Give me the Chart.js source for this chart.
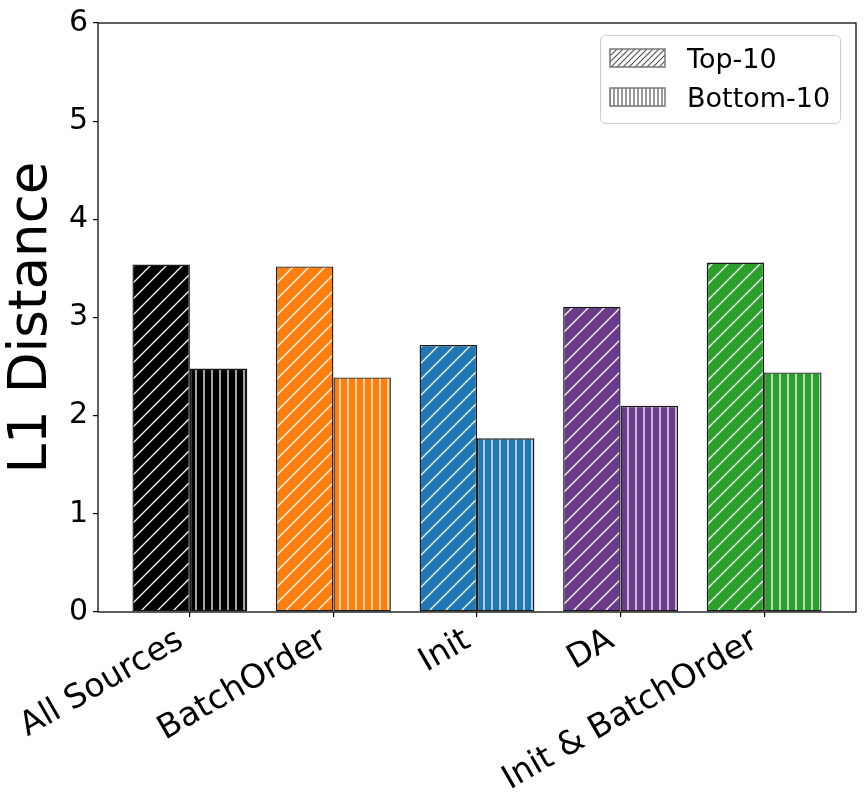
<!DOCTYPE html>
<html>
<head>
<meta charset="utf-8">
<script src="https://cdn.jsdelivr.net/npm/chart.js@4.4.0/dist/chart.umd.min.js"></script>
<style>
  html, body { margin: 0; padding: 0; background: #fff; }
  #wrap { width: 864px; height: 807px; }
</style>
</head>
<body>
<div id="wrap"><canvas id="l1Chart" width="864" height="807"></canvas></div>
<script>
// data
const categories = ['All Sources', 'BatchOrder', 'Init', 'DA', 'Init & BatchOrder'];
const seriesNames = ['Top-10', 'Bottom-10'];
const top10 = [3.54, 3.52, 2.72, 3.11, 3.56];
const bottom10 = [2.48, 2.39, 1.77, 2.10, 2.44];
const barColors = ['#000000', '#ff7f0e', '#1f77b4', '#6a3a8b', '#2ca02c'];
const yTicks = [0, 1, 2, 3, 4, 5, 6];

const FONT = "'DejaVu Sans', sans-serif";

// hatch pattern "/" with lines of given colour on a fill
function diagPattern(fill, line, size, width) {
    const c = document.createElement('canvas');
    c.width = size; c.height = size;
    const ctx = c.getContext('2d');
    ctx.fillStyle = fill;
    ctx.fillRect(0, 0, size, size);
    ctx.strokeStyle = line;
    ctx.lineWidth = width;
    ctx.beginPath();
    ctx.moveTo(0, size); ctx.lineTo(size, 0);
    ctx.moveTo(-size / 2, size / 2); ctx.lineTo(size / 2, -size / 2);
    ctx.moveTo(size / 2, size * 1.5); ctx.lineTo(size * 1.5, size / 2);
    ctx.stroke();
    return ctx.createPattern(c, 'repeat');
}

// hatch pattern "|"
function vertPattern(fill, line, size, width) {
    const c = document.createElement('canvas');
    c.width = size; c.height = size;
    const ctx = c.getContext('2d');
    ctx.fillStyle = fill;
    ctx.fillRect(0, 0, size, size);
    ctx.strokeStyle = line;
    ctx.lineWidth = width;
    ctx.beginPath();
    ctx.moveTo(size / 2, 0); ctx.lineTo(size / 2, size);
    ctx.stroke();
    return ctx.createPattern(c, 'repeat');
}

const topFills = barColors.map(c => diagPattern(c, '#ffffff', 16, 1.3));
const bottomFills = barColors.map(c => vertPattern(c, '#ffffff', 8, 1.3));
const legendFills = [diagPattern('#ffffff', '#555555', 6, 1.2), vertPattern('#ffffff', '#555555', 4, 1.2)];

// frame round the plot area (all four spines)
const framePlugin = {
    id: 'frame',
    afterDatasetsDraw(chart) {
        const a = chart.chartArea;
        const ctx = chart.ctx;
        ctx.save();
        ctx.strokeStyle = '#000';
        ctx.lineWidth = 1.25;
        ctx.strokeRect(a.left, a.top, a.right - a.left, a.bottom - a.top);
        ctx.restore();
    }
};

// legend with hatched swatches in the upper right corner
const hatchLegend = {
    id: 'hatchLegend',
    afterDraw(chart) {
        const ctx = chart.ctx;
        ctx.save();
        ctx.fillStyle = 'rgba(255,255,255,0.8)';
        ctx.strokeStyle = '#cccccc';
        ctx.lineWidth = 1;
        ctx.beginPath();
        ctx.roundRect(600.5, 35.5, 240, 88, 5);
        ctx.fill();
        ctx.stroke();
        chart.data.datasets.forEach((ds, i) => {
            const y = 49 + i * 39;
            ctx.fillStyle = legendFills[i];
            ctx.fillRect(610, y, 55, 18);
            ctx.strokeStyle = '#777777';
            ctx.lineWidth = 1.5;
            ctx.strokeRect(610, y, 55, 18);
            ctx.fillStyle = '#000';
            ctx.font = '27px ' + FONT;
            ctx.textBaseline = 'alphabetic';
            ctx.fillText(ds.label, 687, y + 19);
        });
        ctx.restore();
    }
};

new Chart(document.getElementById('l1Chart'), {
    type: 'bar',
    data: {
        datasets: [{
            label: seriesNames[0],
            data: categories.map((c, i) => ({ x: i, y: top10[i] })),
            backgroundColor: topFills,
            borderColor: '#1a1a1a',
            borderWidth: 1.4,
            borderSkipped: false
        }, {
            label: seriesNames[1],
            data: categories.map((c, i) => ({ x: i, y: bottom10[i] })),
            backgroundColor: bottomFills,
            borderColor: '#1a1a1a',
            borderWidth: 1.4,
            borderSkipped: false
        }]
    },
    options: {
        responsive: false,
        animation: false,
        devicePixelRatio: 1,
        categoryPercentage: 0.8,
        barPercentage: 1.0,
        layout: { padding: { top: 22, right: 8, left: 0, bottom: 0 } },
        plugins: {
            legend: { display: false },
            tooltip: { enabled: false }
        },
        scales: {
            x: {
                type: 'linear',
                min: -0.64,
                max: 4.64,
                offset: false,
                border: { display: false },
                grid: { offset: false, drawOnChartArea: false, drawTicks: true, tickLength: 5, tickColor: '#000', lineWidth: 1.2 },
                afterBuildTicks: scale => { scale.ticks = categories.map((c, i) => ({ value: i })); },
                afterFit: scale => { scale.height = 195; },
                ticks: {
                    autoSkip: false,
                    maxRotation: 30,
                    minRotation: 30,
                    padding: 4,
                    labelOffset: -9,
                    color: '#000',
                    font: { family: FONT, size: 33 },
                    callback: v => categories[v]
                }
            },
            y: {
                min: 0,
                max: 6,
                border: { display: false },
                grid: { drawOnChartArea: false, drawTicks: true, tickLength: 5, tickColor: '#000', lineWidth: 1.2 },
                afterBuildTicks: scale => { scale.ticks = yTicks.map(v => ({ value: v })); },
                afterFit: scale => { scale.width = 98; },
                ticks: {
                    padding: 5,
                    color: '#000',
                    font: { family: FONT, size: 30 }
                },
                title: {
                    display: true,
                    text: 'L1 Distance',
                    color: '#000',
                    padding: { top: 6, bottom: 0 },
                    font: { family: FONT, size: 53, lineHeight: 1 }
                }
            }
        }
    },
    plugins: [framePlugin, hatchLegend]
});
</script>
</body>
</html>
